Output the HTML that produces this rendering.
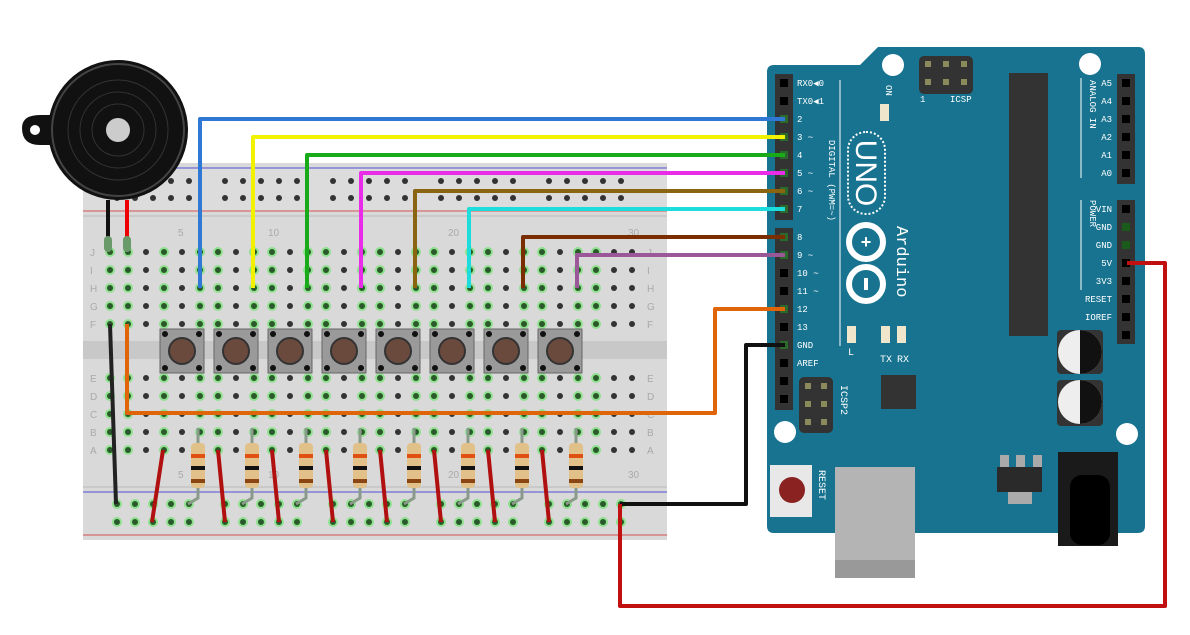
<!DOCTYPE html>
<html><head><meta charset="utf-8"><style>
html,body{margin:0;padding:0;background:#fff;width:1190px;height:635px;overflow:hidden}
svg{display:block;font-family:"Liberation Mono",monospace}
</style></head><body>
<svg id="s" width="1190" height="635" viewBox="0 0 1190 635" xmlns="http://www.w3.org/2000/svg">
<rect x="83" y="163" width="584" height="377" fill="#d9d9d9"/>
<rect x="83" y="168" width="584" height="44" fill="#dcdcdc"/>
<line x1="83" y1="168" x2="667" y2="168" stroke="#2020d0" stroke-width="0.8"/>
<line x1="83" y1="211" x2="667" y2="211" stroke="#d02020" stroke-width="0.8"/>
<line x1="83" y1="216" x2="667" y2="216" stroke="#c4c4c4" stroke-width="1.5"/>
<rect x="83" y="341" width="584" height="18" fill="#c8c8c8"/>
<line x1="83" y1="487" x2="667" y2="487" stroke="#c4c4c4" stroke-width="1.5"/>
<line x1="83" y1="492" x2="667" y2="492" stroke="#2020d0" stroke-width="0.8"/>
<line x1="83" y1="535" x2="667" y2="535" stroke="#d02020" stroke-width="0.8"/>
<g id="holes"></g>
<g font-size="10" fill="#aaa" font-family="Liberation Sans,sans-serif" id="lbl"></g>
<path d="M767,72 Q767,65 774,65 L860,65 L878,47 L1138,47 Q1145,47 1145,54 L1145,526 Q1145,533 1138,533 L774,533 Q767,533 767,526 Z" fill="#17738f"/>
<circle cx="893" cy="65" r="11" fill="#fff"/><circle cx="1090" cy="64" r="11" fill="#fff"/>
<circle cx="785" cy="432" r="11" fill="#fff"/><circle cx="1127" cy="434" r="11" fill="#fff"/>
<rect x="775" y="74" width="18" height="146" fill="#333"/>
<rect x="775" y="228" width="18" height="182" fill="#333"/>
<rect x="1117" y="74" width="18" height="110" fill="#333"/>
<rect x="1117" y="200" width="18" height="144" fill="#333"/>
<g id="pins"></g>
<rect x="919" y="56" width="54" height="38" rx="5" fill="#333"/>
<g fill="#8a8a5a"><rect x="925" y="61" width="6" height="6"/><rect x="943" y="61" width="6" height="6"/><rect x="961" y="61" width="6" height="6"/><rect x="925" y="79" width="6" height="6"/><rect x="943" y="79" width="6" height="6"/><rect x="961" y="79" width="6" height="6"/></g>
<rect x="799" y="377" width="34" height="56" rx="5" fill="#333"/>
<g fill="#8a8a5a"><rect x="805" y="383" width="6" height="6"/><rect x="821" y="383" width="6" height="6"/><rect x="805" y="401" width="6" height="6"/><rect x="821" y="401" width="6" height="6"/><rect x="805" y="419" width="6" height="6"/><rect x="821" y="419" width="6" height="6"/></g>
<rect x="1009" y="73" width="39" height="263" fill="#333"/>
<rect x="881" y="375" width="35" height="34" fill="#333"/>
<rect x="1057" y="330" width="46" height="44" rx="4" fill="#333"/><circle cx="1080" cy="352" r="22" fill="#eee"/><path d="M1080,330 A22,22 0 0 1 1080,374 Z" fill="#111"/>
<rect x="1057" y="380" width="46" height="46" rx="4" fill="#333"/><circle cx="1080" cy="402" r="22" fill="#eee"/><path d="M1080,380 A22,22 0 0 1 1080,424 Z" fill="#111"/>
<rect x="1058" y="452" width="60" height="94" fill="#1a1a1a"/><rect x="1070" y="475" width="40" height="70" rx="12" fill="#000"/>
<rect x="997" y="467" width="45" height="25" fill="#2a2a2a"/><rect x="1008" y="492" width="24" height="12" fill="#aaa"/>
<rect x="1000" y="455" width="9" height="12" fill="#aaa"/><rect x="1016" y="455" width="9" height="12" fill="#aaa"/><rect x="1033" y="455" width="9" height="12" fill="#aaa"/>
<rect x="835" y="467" width="80" height="111" fill="#b4b4b4"/><rect x="835" y="560" width="80" height="18" fill="#999"/>
<rect x="770" y="465" width="42" height="52" fill="#e8e8e8"/><circle cx="792" cy="490" r="13" fill="#8b2222"/>
<rect x="881" y="326" width="9" height="17" fill="#f0e6cc"/><rect x="897" y="326" width="9" height="17" fill="#f0e6cc"/><rect x="847" y="326" width="9" height="17" fill="#f0e6cc"/><rect x="880" y="104" width="9" height="17" fill="#f0e6cc"/>
<line x1="840" y1="80" x2="840" y2="346" stroke="#fff" stroke-width="1"/>
<line x1="1081" y1="78" x2="1081" y2="178" stroke="#fff"/><line x1="1081" y1="200" x2="1081" y2="290" stroke="#fff"/>
<rect x="848" y="132" width="37" height="82" rx="18" fill="none" stroke="#fff" stroke-width="2" stroke-dasharray="2 2"/>
<text transform="translate(856,173) rotate(90)" text-anchor="middle" font-family="Liberation Sans" font-size="30" fill="#fff">UNO</text>
<circle cx="866" cy="242" r="17" fill="none" stroke="#fff" stroke-width="6"/><circle cx="866" cy="284" r="17" fill="none" stroke="#fff" stroke-width="6"/>
<text x="866" y="248" text-anchor="middle" font-size="18" fill="#fff" font-weight="bold">+</text>
<rect x="864" y="278" width="4" height="12" fill="#fff"/>
<text transform="translate(897,226) rotate(90)" font-size="17" fill="#fff">Arduino</text>
<g fill="#fff" font-size="9">
<text transform="translate(829,140) rotate(90)">DIGITAL (PWM=~)</text>
<text transform="translate(1090,80) rotate(90)">ANALOG IN</text>
<text transform="translate(1090,200) rotate(90)">POWER</text>
<text transform="translate(886,85) rotate(90)">ON</text>
<text transform="translate(841,385) rotate(90)" font-size="10">ICSP2</text>
<text transform="translate(819,470) rotate(90)" font-size="10">RESET</text>
</g>
<g id="plbl" fill="#fff" font-size="9"></g>
<g fill="none" stroke-width="4" stroke-linejoin="round">
<path d="M785,119 H200 V288" stroke="#2f79d4"/>
<path d="M785,137 H253 V288" stroke="#f2f200"/>
<path d="M785,155 H307 V288" stroke="#19aa19"/>
<path d="M785,173 H361 V288" stroke="#e82ce8"/>
<path d="M785,191 H415 V288" stroke="#8b6410"/>
<path d="M785,209 H469 V288" stroke="#1cdcdc"/>
<path d="M785,237 H523 V288" stroke="#7a2e00"/>
<path d="M785,255 H577 V288" stroke="#9a5898"/>
<path d="M785,309 H715 V413 H127 V324" stroke="#e0640a"/>
<path d="M785,345 H746 V504 H620" stroke="#111"/>
<path d="M1127,263 H1165 V606 H620 V504" stroke="#c01010"/>
<path d="M110,324 L116,504" stroke="#222"/>
<path d="M108,200 V245" stroke="#111"/><path d="M127,200 V245" stroke="#e00"/>
</g>
<g id="parts"></g>
<path d="M22,128 Q22,115 40,115 L60,115 L60,145 L40,145 Q22,145 22,128Z" fill="#111"/><circle cx="35" cy="130" r="5" fill="#fff"/>
<circle cx="118" cy="130" r="70" fill="#111"/><circle cx="118" cy="130" r="66" fill="none" stroke="#444" stroke-width="2"/>
<circle cx="118" cy="130" r="50" fill="none" stroke="#333"/><circle cx="118" cy="130" r="38" fill="none" stroke="#333"/><circle cx="118" cy="130" r="26" fill="none" stroke="#333"/>
<circle cx="118" cy="130" r="12" fill="#ccc"/>
<g fill="#6a9a6a"><rect x="104" y="236" width="8" height="16" rx="4"/><rect x="123" y="236" width="8" height="16" rx="4"/></g>
</svg>
<script>
const NS="http://www.w3.org/2000/svg";
function el(p,t,a,txt){const e=document.createElementNS(NS,t);for(const k in a)e.setAttribute(k,a[k]);if(txt)e.textContent=txt;document.getElementById(p).appendChild(e);return e;}
const cx=n=>110+(n-1)*18;
const g=[1,2,4,6,7,9,10,12,13,15,16,18,19,21,22,24,25,27,28];
const rowsT=[252,270,288,306,324], rowsB=[378,396,414,432,450];
for(let c=1;c<=30;c++){
 [...rowsT,...rowsB].forEach(y=>{
  const gr=g.includes(c);
  if(gr) el("holes","circle",{cx:cx(c),cy:y,r:5,fill:"#8fe08f"});
  el("holes","circle",{cx:cx(c),cy:y,r:3,fill:gr?"#2a5a2a":"#333"});
 });
}
[181,198,504,522].forEach((y,ri)=>{
 for(let gi=0;gi<5;gi++)for(let k=0;k<5;k++){
  const x=117+gi*108+k*18;
  const gr=ri>=2;
  if(gr)el("holes","circle",{cx:x,cy:y,r:5,fill:"#8fe08f"});
  el("holes","circle",{cx:x,cy:y,r:3,fill:gr?"#2a5a2a":"#333"});
 }
});
"JIHGF".split("").forEach((l,i)=>{el("lbl","text",{x:90,y:rowsT[i]+4},l);el("lbl","text",{x:647,y:rowsT[i]+4},l);});
"EDCBA".split("").forEach((l,i)=>{el("lbl","text",{x:90,y:rowsB[i]+4},l);el("lbl","text",{x:647,y:rowsB[i]+4},l);});
[[5,182],[10,272],[20,452],[30,632]].forEach(([t,x])=>{el("lbl","text",{x:x-4,y:236},t);el("lbl","text",{x:x-4,y:478},t);});
for(let i=0;i<8;i++){
 const bx=182+54*i;
 el("parts","rect",{x:bx-22,y:329,width:44,height:44,fill:"#9a9a9a",stroke:"#666"});
 [[-17,-17],[17,-17],[-17,17],[17,17]].forEach(([a,b])=>el("parts","circle",{cx:bx+a,cy:351+b,r:3,fill:"#111"}));
 el("parts","circle",{cx:bx,cy:351,r:13,fill:"#6b4a3e",stroke:"#333","stroke-width":2});
 const rx=198+54*i;
 el("parts","path",{d:`M${rx},428 V498 L${rx-10},504`,fill:"none",stroke:"#8a9a8a","stroke-width":3});
 el("parts","rect",{x:rx-7,y:443,width:14,height:45,rx:4,fill:"#e2c08a"});
 [[454,"#e05010"],[466,"#111"],[479,"#8b4513"]].forEach(([y,c])=>el("parts","rect",{x:rx-7,y:y,width:14,height:4,fill:c}));
 if(i==0) el("parts","line",{x1:163,y1:450,x2:152,y2:522,stroke:"#b01010","stroke-width":4});
 else { const jx=164+54*i; el("parts","line",{x1:jx,y1:450,x2:jx+7,y2:522,stroke:"#b01010","stroke-width":4}); }
}
const L=[83,101,119,137,155,173,191,209,237,255,273,291,309,327,345,363,381,399];
L.forEach((y,i)=>{const w=[2,3,4,5,6,7,8,9,12,14].includes(i);el("pins","rect",{x:780,y:y-4,width:8,height:8,fill:w?"#2c6a2c":"#000"});});
const R=[83,101,119,137,155,173,209,227,245,263,281,299,317,335];
R.forEach((y,i)=>el("pins","rect",{x:1122,y:y-4,width:8,height:8,fill:(i==7||i==8)?"#1a5a1a":"#000"}));
const ll=["RX0◀0","TX0◀1","2","3 ~","4","5 ~","6 ~","7","8","9 ~","10 ~","11 ~","12","13","GND","AREF"];
ll.forEach((t,i)=>el("plbl","text",{x:797,y:L[i]+3},t));
const rl=["A5","A4","A3","A2","A1","A0","VIN","GND","GND","5V","3V3","RESET","IOREF"];
rl.forEach((t,i)=>el("plbl","text",{x:1112,y:R[i]+3,"text-anchor":"end"},t));
el("plbl","text",{x:848,y:355,"font-size":10},"L");
el("plbl","text",{x:897,y:362,"font-size":10},"RX");
el("plbl","text",{x:880,y:362,"font-size":10},"TX");
el("plbl","text",{x:950,y:102},"ICSP");
el("plbl","text",{x:920,y:102},"1");
</script>
</body></html>
